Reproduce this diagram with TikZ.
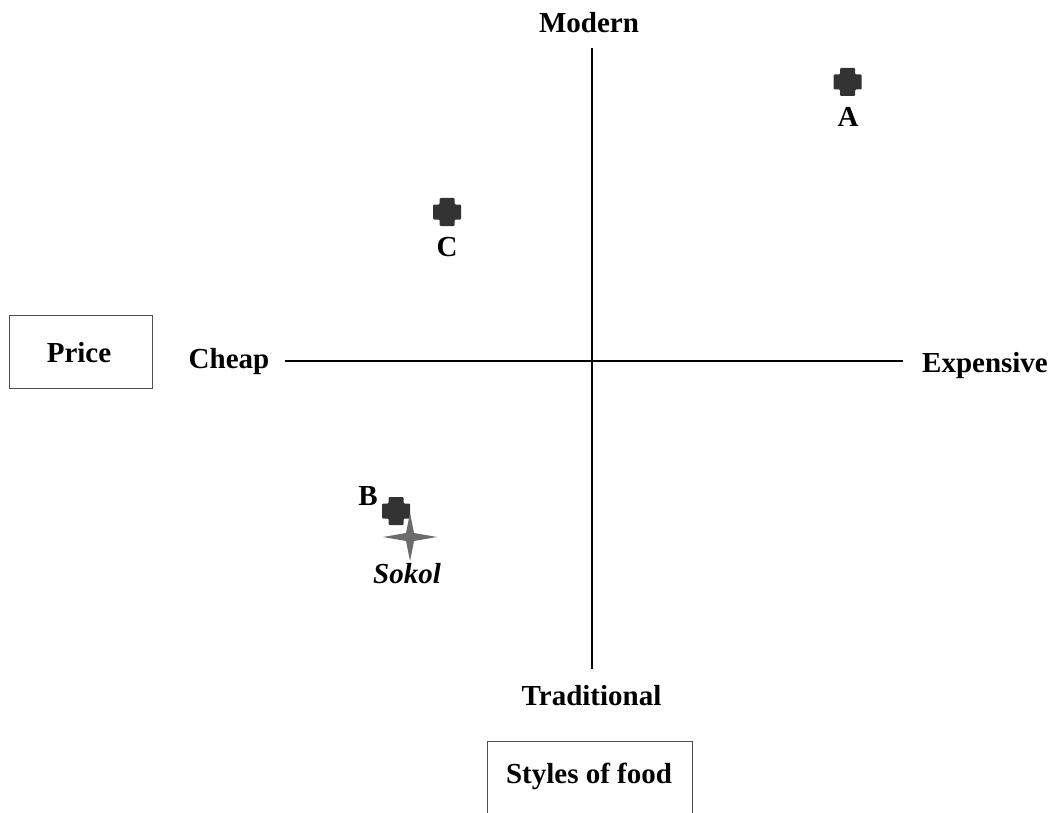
\documentclass[tikz,border=0pt]{standalone}
\usepackage{fontspec}
\setmainfont{Liberation Serif}
\begin{document}
\begin{tikzpicture}[x=1pt,y=-1pt,
  lbl/.style={anchor=base,inner sep=0pt,font=\fontsize{29}{33}\selectfont\bfseries},
  axisline/.style={line width=2pt,black},
  boxline/.style={line width=1.3pt,draw=black!70},
  crossmark/.style={fill=black!80},
  starmark/.style={fill=black!58}]
\useasboundingbox (0,0) rectangle (1054,813);
\clip (0,0) rectangle (1054,813);
\fill[white] (0,0) rectangle (1054,813);
% axes
\coordinate (top) at (592,48);
\coordinate (bot) at (592,669);
\coordinate (left) at (285,361);
\coordinate (right) at (903,361);
\draw[axisline] (top) -- (bot);
\draw[axisline] (left) -- (right);
% axis labels
\node[lbl] (modern) at (589,33) {Modern};
\node[lbl] (trad) at (591.5,705) {Traditional};
\node[lbl] (cheap) at (229,368) {Cheap};
\node[lbl] (exp) at (985,372) {Expensive};
% boxes
\draw[boxline] (9.5,315.5) rectangle (152.5,388.5);
\node[lbl] (price) at (79,362) {Price};
\draw[boxline] (487.5,830) -- (487.5,741.5) -- (692.5,741.5) -- (692.5,830);
\node[lbl] (styles) at (589,783) {Styles of food};
% crosses
\tikzset{pics/plusmark/.style={code={
  \fill[crossmark,rounded corners=1pt] (-7.5,-14) -- (7.5,-14) -- (7.5,-7.5) -- (14,-7.5) -- (14,7.5) -- (7.5,7.5)
   -- (7.5,14) -- (-7.5,14) -- (-7.5,7.5) -- (-14,7.5) -- (-14,-7.5) -- (-7.5,-7.5) -- cycle;}}}
\pic at (847.5,82) {plusmark};
\pic at (447,212) {plusmark};
\pic at (396,511) {plusmark};
\node[lbl] (a) at (848,127) {A};
\node[lbl] (c) at (447,256) {C};
\node[lbl] (b) at (368,505) {B};
% star
\fill[starmark] (410,513) -- (414,533) -- (437,537) -- (414,541) -- (410,561)
  -- (406,541) -- (383,537) -- (406,533) -- cycle;
\node[lbl,font=\fontsize{29}{33}\selectfont\bfseries\itshape] (sokol) at (407,583) {Sokol};
\end{tikzpicture}
\end{document}
